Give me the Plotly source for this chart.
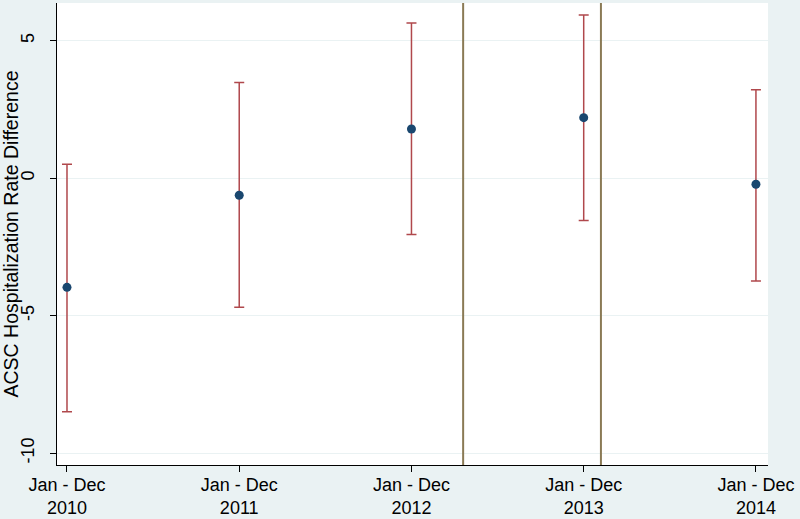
import plotly.graph_objects as go

years = ["2010", "2011", "2012", "2013", "2014"]
tick_labels = ["Jan - Dec<br>" + y for y in years]
estimate = [-3.97, -0.62, 1.79, 2.20, -0.22]
ci_upper = [0.51, 3.48, 5.64, 5.93, 3.22]
ci_lower = [-8.49, -4.69, -2.05, -1.54, -3.74]
ref_lines = [2.30, 3.10]

x = list(range(len(years)))
err_plus = [u - e for u, e in zip(ci_upper, estimate)]
err_minus = [e - l for e, l in zip(estimate, ci_lower)]

fig = go.Figure()
fig.add_trace(go.Scatter(
    x=x, y=estimate, mode="markers",
    marker=dict(color="#1a476f", size=9, symbol="circle"),
    error_y=dict(type="data", symmetric=False, array=err_plus, arrayminus=err_minus,
                 color="#b0484c", thickness=1.5, width=5),
    showlegend=False,
))

for xv in ref_lines:
    fig.add_shape(type="line", x0=xv, x1=xv, xref="x", y0=0, y1=1, yref="paper",
                  line=dict(color="#8a7a55", width=2))

fig.update_layout(
    width=800, height=519,
    margin=dict(l=57, r=32, t=3, b=54),
    paper_bgcolor="#eaf2f3", plot_bgcolor="#ffffff",
    font=dict(family="Liberation Sans, Arial, sans-serif", size=18, color="#000000"),
)
fig.update_xaxes(
    range=[-0.058, 4.07], tickmode="array", tickvals=x, ticktext=tick_labels,
    showgrid=False, zeroline=False, showline=True, linecolor="#000000", linewidth=1,
    ticks="outside", ticklen=6, tickcolor="#000000", automargin=False,
    tickfont=dict(size=18), ticklabelstandoff=-3,
)
fig.update_yaxes(
    range=[-10.43, 6.37], tickmode="array", tickvals=[-10, -5, 0, 5],
    ticktext=["-10", "-5", "0", "5"], tickangle=-90,
    showgrid=True, gridcolor="#eaf2f3", gridwidth=1, zeroline=False,
    showline=True, linecolor="#000000", linewidth=1,
    ticks="outside", ticklen=6, tickcolor="#000000", automargin=False,
    tickfont=dict(size=18), ticklabelstandoff=9,
    title=dict(text="ACSC Hospitalization Rate Difference", standoff=2, font=dict(size=19.5)),
)

fig.write_html("out.html", config={"displayModeBar": False},
               post_script="document.body.style.margin='0';document.body.style.overflow='hidden';")
